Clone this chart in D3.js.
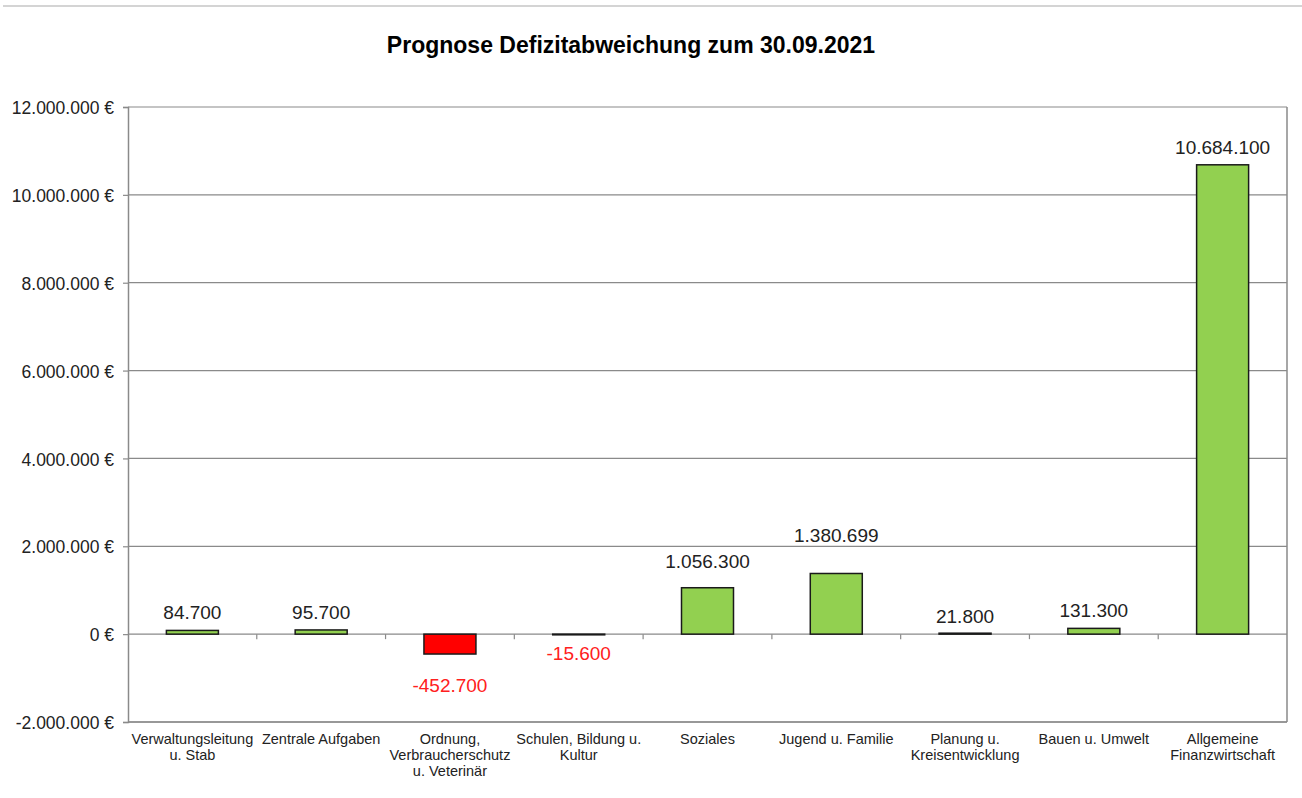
<!DOCTYPE html>
<html>
<head>
<meta charset="utf-8">
<script src="https://cdn.jsdelivr.net/npm/d3@7"></script>
<style>
  body{margin:0;background:#fff;}
  svg{display:block;font-family:Arial,"Liberation Sans",sans-serif;}
</style>
</head>
<body>
<svg id="chart" width="1302" height="798"></svg>
<script>
// data
const categories=[
  ['Verwaltungsleitung','u. Stab'],
  ['Zentrale Aufgaben'],
  ['Ordnung,','Verbraucherschutz','u. Veterinär'],
  ['Schulen, Bildung u.','Kultur'],
  ['Soziales'],
  ['Jugend u. Familie'],
  ['Planung u.','Kreisentwicklung'],
  ['Bauen u. Umwelt'],
  ['Allgemeine','Finanzwirtschaft']
];
const values=[84700,95700,-452700,-15600,1056300,1380699,21800,131300,10684100];
const yTicks=[-2000000,0,2000000,4000000,6000000,8000000,10000000,12000000];

// label distances from bar end (layout, hand moved labels in the original)
const labelGap=[11,11,25,12,20,31,10,11,11];

const svg=d3.select('#chart');
const pLeft=128,pRight=1287,pTop=107,pBottom=722;

const fmt0=d3.formatLocale({decimal:',',thousands:'.',grouping:[3],currency:['',''],minus:'-'}).format(',.0f');
const fmt=d=>fmt0(d);

const x=d3.scaleBand().domain(d3.range(categories.length)).range([pLeft,pRight]).paddingInner(0).paddingOuter(0);
const y=d3.scaleLinear().domain([-2000000,12000000]).range([pBottom,pTop]);
const barW=52;

// separator at top
svg.append('line').attr('x1',3).attr('x2',1302).attr('y1',6).attr('y2',6)
  .attr('stroke','#d4d4d4').attr('stroke-width',2);

svg.append('text').attr('x',631).attr('y',53).attr('text-anchor','middle')
  .style('font-size','23px').style('font-weight','bold').attr('fill','#000')
  .text('Prognose Defizitabweichung zum 30.09.2021');

// grid
svg.append('g').selectAll('line').data(yTicks).enter().append('line')
  .attr('x1',pLeft).attr('x2',pRight).attr('y1',d=>y(d)).attr('y2',d=>y(d))
  .attr('stroke','#8a8a8a').attr('stroke-width',1.2);

// y axis
const axisY=d3.axisLeft(y).tickValues(yTicks).tickSize(5).tickPadding(9)
  .tickFormat(d=>fmt(d)+' €');
const gy=svg.append('g').attr('transform','translate('+pLeft+',0)').call(axisY);
gy.select('.domain').attr('stroke','#8a8a8a').attr('stroke-width',1.5);
gy.selectAll('.tick line').attr('stroke','#8a8a8a').attr('stroke-width',1.2);
gy.selectAll('.tick text').style('font-size','17.5px').attr('fill','#222').attr('dy','0.38em');

// frame right and bottom
svg.append('line').attr('x1',pRight).attr('x2',pRight).attr('y1',pTop).attr('y2',pBottom)
  .attr('stroke','#8a8a8a').attr('stroke-width',1.5);
svg.append('line').attr('x1',pLeft).attr('x2',pRight).attr('y1',pBottom).attr('y2',pBottom)
  .attr('stroke','#8a8a8a').attr('stroke-width',1.5);

// zero axis with category ticks
const gx=svg.append('g');
gx.selectAll('line.tk').data(d3.range(1,categories.length)).enter().append('line')
  .attr('class','tk')
  .attr('x1',i=>pLeft+i*x.step()).attr('x2',i=>pLeft+i*x.step())
  .attr('y1',y(0)).attr('y2',y(0)+5)
  .attr('stroke','#8a8a8a').attr('stroke-width',1.2);

// bars
svg.append('g').selectAll('rect').data(values).enter().append('rect')
  .attr('x',(d,i)=>x(i)+x.bandwidth()/2-barW/2)
  .attr('width',barW)
  .attr('y',d=>Math.min(y(d),y(0)))
  .attr('height',d=>Math.abs(y(d)-y(0)))
  .attr('fill',d=>d<0?'#ff0000':'#92d050')
  .attr('stroke','#1a1a1a').attr('stroke-width',1.5);

// value labels
svg.append('g').selectAll('text').data(values).enter().append('text')
  .attr('x',(d,i)=>x(i)+x.bandwidth()/2)
  .attr('y',(d,i)=>d<0?y(d)+labelGap[i]+13:y(d)-labelGap[i])
  .attr('text-anchor','middle')
  .style('font-size','19px')
  .attr('fill',d=>d<0?'#ff2020':'#222')
  .text(d=>fmt(d));

// category labels
const cl=svg.append('g').selectAll('text').data(categories).enter().append('text')
  .attr('x',(d,i)=>x(i)+x.bandwidth()/2)
  .attr('y',744)
  .attr('text-anchor','middle')
  .style('font-size','14.5px').attr('fill','#222');
cl.selectAll('tspan').data(d=>d).enter().append('tspan')
  .attr('x',function(){return this.parentNode.getAttribute('x');})
  .attr('dy',(d,i)=>i===0?0:16)
  .text(d=>d);
</script>
</body>
</html>
